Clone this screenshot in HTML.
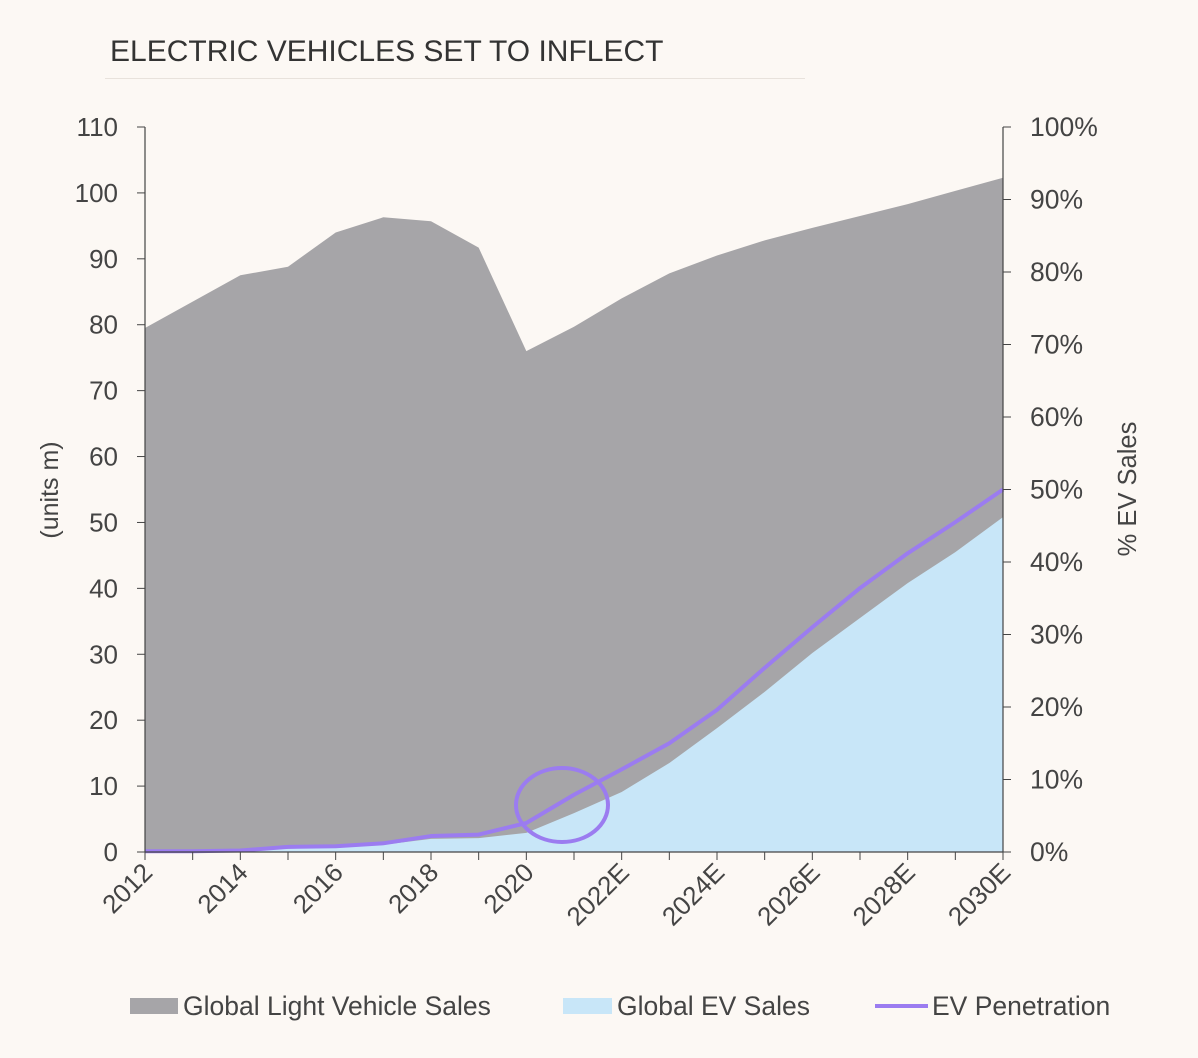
<!DOCTYPE html>
<html><head><meta charset="utf-8"><style>
body{margin:0;background:#fcf8f4;}
svg{display:block;font-family:"Liberation Sans",sans-serif;}
</style></head><body>
<svg id="chart" width="1198" height="1058">
<rect width="1198" height="1058" fill="#fcf8f4"/>
<text x="110" y="61" font-size="30" fill="#333">ELECTRIC VEHICLES SET TO INFLECT</text>
<line x1="105" y1="78.5" x2="805" y2="78.5" stroke="#e8e2dc" stroke-width="1"/>
<g id="plot"></g>
<text transform="translate(58,490) rotate(-90)" text-anchor="middle" font-size="25" fill="#444">(units m)</text>
<text transform="translate(1136,489) rotate(-90)" text-anchor="middle" font-size="25.5" fill="#444">% EV Sales</text>
<g>
<g><rect x="130" y="998" width="48" height="16" fill="#a6a5a8"/><text x="183" y="1015" font-size="26.5" fill="#444">Global Light Vehicle Sales</text></g>
<g><rect x="563" y="998" width="49" height="16" fill="#c8e6f8"/><text x="617" y="1015" font-size="26.5" fill="#444">Global EV Sales</text></g>
<g><line x1="875" y1="1006" x2="928" y2="1006" stroke="#9b7cf0" stroke-width="4"/><text x="932" y="1015" font-size="26.5" fill="#444">EV Penetration</text></g>
</g>
</svg>
<script>
const categories=["2012","2013","2014","2015","2016","2017","2018","2019","2020","2021","2022E","2023E","2024E","2025E","2026E","2027E","2028E","2029E","2030E"];
const lightVehicleSales=[79.5,83.5,87.5,88.8,94,96.3,95.7,91.7,76,79.7,84,87.8,90.5,92.8,94.7,96.5,98.3,100.3,102.3];
const evSales=[0.1,0.1,0.2,0.5,0.7,1.1,2.0,2.1,2.9,5.9,9.1,13.5,18.8,24.3,30.2,35.5,40.8,45.5,50.8];
const evPenetration=[0.1,0.1,0.2,0.7,0.8,1.2,2.2,2.4,4.0,7.9,11.4,15.0,19.6,25.4,31.0,36.4,41.2,45.5,50.0];
const leftTicks=[0,10,20,30,40,50,60,70,80,90,100,110];
const rightTicks=[0,10,20,30,40,50,60,70,80,90,100];
const xLabels=["2012","2014","2016","2018","2020","2022E","2024E","2026E","2028E","2030E"];

const NS="http://www.w3.org/2000/svg";
const X0=145,X1=1003,Y0=852,Y1=127;
const xs=i=>X0+(X1-X0)*i/(categories.length-1);
const yL=v=>Y0-(Y0-Y1)*v/110;
const yR=v=>Y0-(Y0-Y1)*v/100;
const g=document.getElementById('plot');
function mk(t,a){const e=document.createElementNS(NS,t);for(const k in a)e.setAttribute(k,a[k]);g.appendChild(e);return e;}
function areaPath(arr){let d=`M${xs(0)},${Y0}`;arr.forEach((v,i)=>d+=`L${xs(i)},${yL(v)}`);return d+`L${xs(arr.length-1)},${Y0}Z`;}
let e=mk('path',{d:areaPath(lightVehicleSales),fill:'#a6a5a8'});


e=mk('path',{d:areaPath(evSales),fill:'#c8e6f8'});


let d='';evPenetration.forEach((v,i)=>d+=(i?'L':'M')+xs(i)+','+yR(v));
e=mk('path',{d:d,fill:'none',stroke:'#9b7cf0','stroke-width':4,'stroke-linejoin':'round'});


e=mk('ellipse',{cx:562,cy:805,rx:46,ry:37,fill:'none',stroke:'#9b7cf0','stroke-width':4});


e=mk('line',{x1:X0,y1:Y1,x2:X0,y2:Y0,stroke:'#444','stroke-width':1.2});


e=mk('line',{x1:X1,y1:Y1,x2:X1,y2:Y0,stroke:'#444','stroke-width':1.2});


e=mk('line',{x1:X0,y1:Y0,x2:X1,y2:Y0,stroke:'#444','stroke-width':1.2});


leftTicks.forEach(v=>{
  mk('line',{x1:X0-8,y1:yL(v),x2:X0,y2:yL(v),stroke:'#444'});
  const t=mk('text',{x:118,y:yL(v)+9,'text-anchor':'end','font-size':26,fill:'#444'});t.textContent=v;
  
  
});
rightTicks.forEach(v=>{
  mk('line',{x1:X1,y1:yR(v),x2:X1+8,y2:yR(v),stroke:'#444'});
  const t=mk('text',{x:1030,y:yR(v)+9,'font-size':26.5,fill:'#444'});t.textContent=v+'%';
  
  
});
categories.forEach((c,i)=>{mk('line',{x1:xs(i),y1:Y0,x2:xs(i),y2:Y0+8,stroke:'#444'});});
xLabels.forEach(l=>{
  const i=categories.indexOf(l);const x=xs(i)+9,y=874;
  const t=mk('text',{x:x,y:y,'text-anchor':'end','font-size':26,fill:'#444',transform:`rotate(-45 ${x} ${y})`});t.textContent=l;
  
  
});
</script>
</body></html>
